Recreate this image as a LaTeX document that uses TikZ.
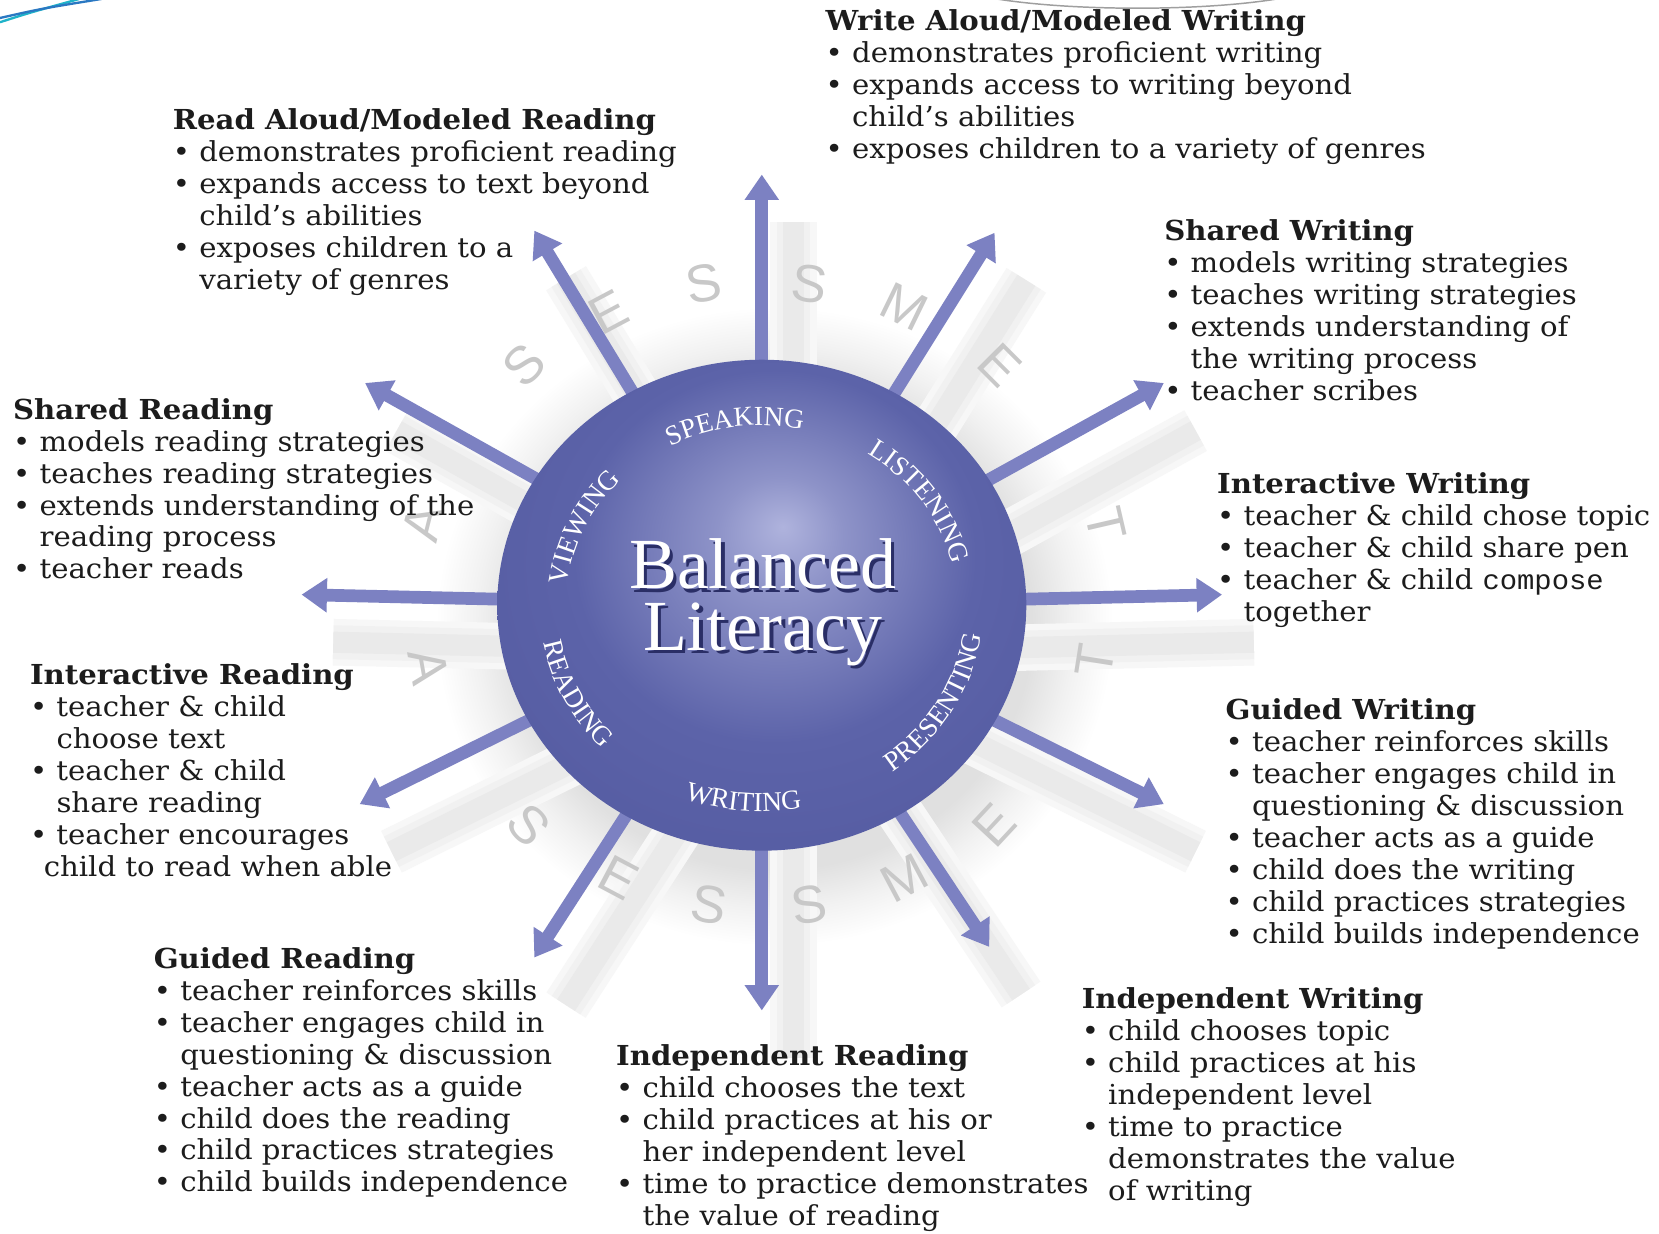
\documentclass[tikz,border=0pt]{standalone}
\usepackage{fontspec}
\setmainfont{DejaVu Serif}[FakeStretch=1.06]
\newfontfamily\lserif{Liberation Serif}
\newfontfamily\lsans{Liberation Sans}
\newfontfamily\lmono{Liberation Mono}[FakeStretch=1.05]
\usetikzlibrary{shapes.geometric,arrows.meta,decorations.text,calc}
\pgfdeclarelayer{bg}\pgfdeclarelayer{mid}\pgfsetlayers{bg,mid,main}
\definecolor{arrowblue}{HTML}{7C81C2}
\definecolor{sphereedge}{HTML}{484E94}
\definecolor{spheremid}{HTML}{5C63A9}
\definecolor{spherelight}{HTML}{AFB3DD}
\definecolor{shA}{HTML}{F7F7F7}
\definecolor{shB}{HTML}{F1F1F1}
\definecolor{shC}{HTML}{EAEAEA}
\definecolor{halo}{HTML}{E0E0E0}
\definecolor{lettergray}{HTML}{C8C8C8}
\definecolor{txt}{HTML}{1C1C1C}
\definecolor{decoA}{HTML}{1FB3C9}
\definecolor{decoB}{HTML}{2A78C2}
\definecolor{embshadow}{HTML}{2A2E66}
\pgfdeclareradialshading{sphereshade}{\pgfpoint{2bp}{8bp}}{color(0bp)=(spherelight); color(6bp)=(spherelight!60!spheremid); color(19bp)=(spheremid); color(30bp)=(spheremid!70!sphereedge); color(36bp)=(sphereedge); color(50bp)=(sphereedge)}
\pgfdeclareradialshading{haloshade}{\pgfpoint{0bp}{0bp}}{color(0bp)=(halo); color(19bp)=(halo); color(22bp)=(halo!45!white); color(25bp)=(white); color(50bp)=(white)}
\newcommand{\labfont}{\lserif\fontsize{13}{13}\selectfont\color{white}}
\newcommand{\arclab}[6]{\path[decorate,decoration={text along path,text align=center,text={#6}}]
  ($(#1)+(#2:#4 and #5)$) arc[start angle=#2,end angle=#3,x radius=#4,y radius=#5];}
\newcommand{\ind}{\phantom{•\ }}
\tikzset{
  blk/.style={anchor=north west,inner sep=0pt,align=left,text=txt,font=\fontsize{13}{15.1}\selectfont},
  arr/.style={draw=arrowblue,line width=6pt,-{Triangle[width=15.5pt,length=12pt]}},
  glet/.style={inner sep=0pt,text=lettergray,font=\lsans\fontsize{25}{25}\selectfont},
}
\begin{document}
\begin{tikzpicture}[x=0.5pt,y=-0.5pt]
\useasboundingbox (0,0) rectangle (1568,1166);
% sphere
\node[ellipse,minimum width=250pt,minimum height=232pt,inner sep=0pt,shade,shading=sphereshade] (core) at (720,572) {};
% arrow tips
\coordinate (t090) at (720,165);
\coordinate (t060) at (940,220);
\coordinate (t030) at (1100,362);
\coordinate (t000) at (1155,562);
\coordinate (t330) at (1100,760);
\coordinate (t300) at (935,895);
\coordinate (t270) at (720,955);
\coordinate (t240) at (505,905);
\coordinate (t210) at (340,760);
\coordinate (t180) at (285,562);
\coordinate (t150) at (345,362);
\coordinate (t120) at (505,218);
\begin{pgfonlayer}{bg}
  \fill[white] (0,0) rectangle (1568,1166);
  % slide decorations
  \draw[decoA,line width=1.1pt] (0,21) .. controls (28,12) .. (75,-1);
  \draw[decoB,line width=1.1pt] (0,17) .. controls (40,8) .. (96,-1);
  \draw[gray!75,line width=0.7pt] (936,-2) .. controls (1010,11) and (1140,11) .. (1213,-2);
  % soft halo of the sphere
  \shade[shading=haloshade] ([shift={(12,20)}]core.center) ellipse [x radius=320, y radius=302];
  % soft shadows of the arrows
  \foreach \t in {t090,t060,t030,t000,t330,t300,t270,t240,t210,t180,t150,t120}{
    \draw[shA,line width=22pt] ([shift={(30,45)}]core.center) -- ([shift={(30,45)}]\t);
    \draw[shB,line width=16pt] ([shift={(30,45)}]core.center) -- ([shift={(30,45)}]\t);
    \draw[shC,line width=10pt] ([shift={(30,45)}]core.center) -- ([shift={(30,45)}]\t);
  }
  % faint letters
  \node[glet,rotate=76] (ga1) at (400,494) {A};
  \node[glet,rotate=45] (gs1) at (495,345) {S};
  \node[glet,rotate=28] (ge1) at (575,295) {E};
  \node[glet,rotate=10] (gs2) at (665,268) {S};
  \node[glet,rotate=-8] (gs3) at (765,268) {S};
  \node[glet,rotate=-26] (gm1) at (855,290) {M};
  \node[glet,rotate=-45] (ge2) at (945,345) {E};
  \node[glet,rotate=-77] (gt1) at (1045,495) {T};
  \node[glet,rotate=-80] (ga2) at (405,630) {A};
  \node[glet,rotate=-47] (gs4) at (500,780) {S};
  \node[glet,rotate=-28] (ge3) at (585,830) {E};
  \node[glet,rotate=-10] (gs5) at (670,855) {S};
  \node[glet,rotate=9] (gs6) at (765,855) {S};
  \node[glet,rotate=28] (gm2) at (855,830) {M};
  \node[glet,rotate=47] (ge4) at (940,780) {E};
  \node[glet,rotate=81] (gt2) at (1035,624) {T};
\end{pgfonlayer}
\begin{pgfonlayer}{mid}
  \foreach \t in {t090,t060,t030,t000,t330,t300,t270,t240,t210,t180,t150,t120}{
    \draw[arr] (core.center) -- (\t);
  }
\end{pgfonlayer}
% curved labels
\coordinate (lc) at (core.center);
\arclab{lc}{-128}{-68}{185}{170}{|\labfont|SPEAKING}
\arclab{lc}{-65}{-5}{185}{170}{|\labfont|LISTENING}
\arclab{lc}{-185}{-125}{185}{170}{|\labfont|VIEWING}
\arclab{lc}{61}{1}{210}{195}{|\labfont|PRESENTING}
\arclab{lc}{125}{65}{210}{195}{|\labfont|WRITING}
\arclab{lc}{183}{123}{210}{195}{|\labfont|READING}
% title in sphere
\node[font=\lserif\fontsize{34}{29}\selectfont,text=embshadow,align=center,anchor=north,inner sep=0pt] (blsh) at (724,512) {Balanced\\Literacy};
\node[font=\lserif\fontsize{34}{29}\selectfont,text=white,align=center,anchor=north,inner sep=0pt] (bl) at (721,509) {Balanced\\Literacy};
% text blocks
\node[blk] (wa) at (780,9) {{\bfseries Write Aloud/Modeled Writing}\\
• demonstrates proficient writing\\
• expands access to writing beyond\\
\ind child’s abilities\\
• exposes children to a variety of genres};
\node[blk] (ra) at (163,102) {{\bfseries Read Aloud/Modeled Reading}\\
• demonstrates proficient reading\\
• expands access to text beyond\\
\ind child’s abilities\\
• exposes children to a\\
\ind variety of genres};
\node[blk] (sw) at (1100,207) {{\bfseries Shared Writing}\\
• models writing strategies\\
• teaches writing strategies\\
• extends understanding of\\
\ind the writing process\\
• teacher scribes};
\node[blk] (sr) at (12,376) {{\bfseries Shared Reading}\\
• models reading strategies\\
• teaches reading strategies\\
• extends understanding of the\\
\ind reading process\\
• teacher reads};
\node[blk] (iw) at (1150,446) {{\bfseries Interactive Writing}\\
• teacher \& child chose topic\\
• teacher \& child share pen\\
• teacher \& child {\lmono compose}\\
\ind together};
\node[blk] (ir) at (28,627) {{\bfseries Interactive Reading}\\
• teacher \& child\\
\ind choose text\\
• teacher \& child\\
\ind share reading\\
• teacher encourages\\
\hspace*{0.5em}child to read when able};
\node[blk] (gw) at (1158,660) {{\bfseries Guided Writing}\\
• teacher reinforces skills\\
• teacher engages child in\\
\ind questioning \& discussion\\
• teacher acts as a guide\\
• child does the writing\\
• child practices strategies\\
• child builds independence};
\node[blk] (gr) at (145,895) {{\bfseries Guided Reading}\\
• teacher reinforces skills\\
• teacher engages child in\\
\ind questioning \& discussion\\
• teacher acts as a guide\\
• child does the reading\\
• child practices strategies\\
• child builds independence};
\node[blk] (inw) at (1022,933) {{\bfseries Independent Writing}\\
• child chooses topic\\
• child practices at his\\
\ind independent level\\
• time to practice\\
\ind demonstrates the value\\
\ind of writing};
\node[blk] (inr) at (582,987) {{\bfseries Independent Reading}\\
• child chooses the text\\
• child practices at his or\\
\ind her independent level\\
• time to practice demonstrates\\
\ind the value of reading};
\end{tikzpicture}
\end{document}
